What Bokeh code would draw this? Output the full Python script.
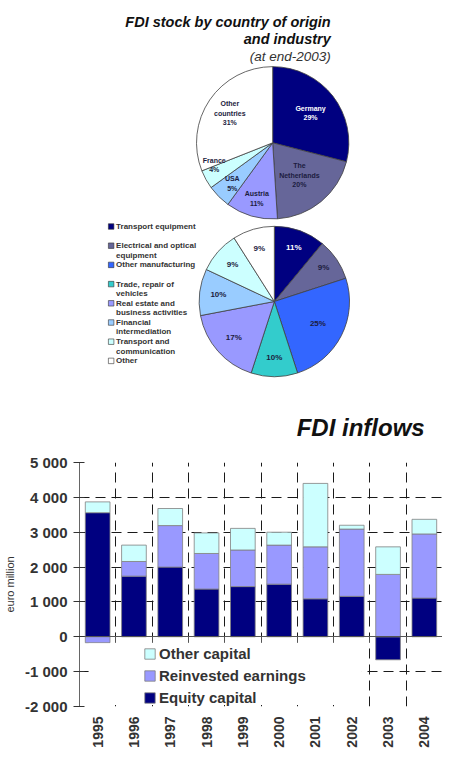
import numpy as np
from bokeh.plotting import figure
from bokeh.models import (Range1d, FixedTicker, Legend, LegendItem, BoxAnnotation,
                          LinearAxis, CustomJSTickFormatter)
from bokeh.layouts import column
from bokeh.embed import file_html
from bokeh.resources import INLINE
from bokeh.core.properties import value

FONT = "Liberation Sans"

# ---------------- data ----------------
country_names = ["Germany", "The\nNetherlands", "Austria", "USA", "France", "Other\ncountries"]
country_share = [29, 20, 11, 5, 4, 31]
country_colors = ["#000080", "#666699", "#9999ff", "#99ccff", "#ccffff", "#ffffff"]

industry_names = ["Transport equipment", "Electrical and optical\nequipment", "Other manufacturing",
                  "Trade, repair of\nvehicles", "Real estate and\nbusiness activities",
                  "Financial\nintermediation", "Transport and\ncommunication", "Other"]
industry_share = [11, 9, 25, 10, 17, 10, 9, 9]
industry_colors = ["#000080", "#666699", "#3366ff", "#33cccc", "#9999ff", "#99ccff", "#ccffff", "#ffffff"]

years = ["1995", "1996", "1997", "1998", "1999", "2000", "2001", "2002", "2003", "2004"]
equity_capital = [3560, 1740, 2000, 1370, 1440, 1510, 1090, 1160, -660, 1110]
reinvested_earnings = [-170, 420, 1190, 1020, 1050, 1120, 1490, 1930, 1790, 1840]
other_capital = [310, 470, 490, 590, 620, 370, 1820, 110, 790, 420]
series_names = ["Equity capital", "Reinvested earnings", "Other capital"]
series_colors = ["#000080", "#9999ff", "#ccffff"]

y_ticks = [-2000, -1000, 0, 1000, 2000, 3000, 4000, 5000]
y_tick_labels = ["-2 000", "-1 000", "0", "1 000", "2 000", "3 000", "4 000", "5 000"]

# ---------------- styling / layout ----------------
W = 442
H1 = 440
H2 = 310
LEFT = 75          # frame left border shared by both figures (column aligns frames)
X0 = 8 + LEFT      # page x of frame left
DARK = "#1c1c40"
TXT = "#333333"

top = figure(width=W, height=H1, x_range=Range1d(X0, 8 + W), y_range=Range1d(-H1, 0),
             output_backend="svg", toolbar_location=None, min_border=0, min_border_left=LEFT)
top.xaxis.visible = False
top.yaxis.visible = False
top.xgrid.visible = False
top.ygrid.visible = False
top.outline_line_color = None


def draw_pie(p, cx, cy, r, shares, colors, names, label_colors, rfs, nudges, fsize, pitch):
    frac = np.array(shares, dtype=float) / sum(shares)
    c1 = np.cumsum(frac)
    c0 = c1 - frac
    start = np.pi / 2 - 2 * np.pi * c0
    end = np.pi / 2 - 2 * np.pi * c1
    p.wedge(x=cx, y=cy, radius=r, start_angle=list(start), end_angle=list(end), direction="clock",
            fill_color=colors, line_color="#404040", line_width=0.8)
    mid = (start + end) / 2 - np.radians(nudges)
    xs, ys, ts, cs = [], [], [], []
    for i in range(len(shares)):
        lx = cx + rfs[i] * r * np.cos(mid[i])
        ly = cy + rfs[i] * r * np.sin(mid[i])
        lines = [l for l in names[i].split("\n") if l] + [f"{shares[i]}%"]
        n = len(lines)
        for j, t in enumerate(lines):
            xs.append(lx)
            ys.append(ly - (j - (n - 1) / 2) * pitch)
            ts.append(t)
            cs.append(label_colors[i])
    p.text(x=xs, y=ys, text=ts, text_font=value(FONT), text_font_size=fsize, text_font_style="bold",
           text_align="center", text_baseline="middle", text_color=cs)


# titles
title_lines = ["FDI stock by country of origin", "and industry"]
top.text(x=[337, 337], y=[-21.5, -38.5], text=title_lines, text_font=value(FONT), text_font_size="14.5px",
         text_font_style="bold italic", text_align="right", text_baseline="middle", text_color="#111111")
top.text(x=[337], y=[-55.5], text=["(at end-2003)"], text_font=value(FONT), text_font_size="13.5px",
         text_font_style="italic", text_align="right", text_baseline="middle", text_color=TXT)

# pie 1: countries
draw_pie(top, 278.3, -142.3, 77, country_share, country_colors, country_names,
         ["white", DARK, DARK, DARK, DARK, DARK], [0.63, 0.55, 0.75, 0.75, 0.82, 0.68],
         [0, 0, 0, 0, 8, 0], "7px", 9.5)

# pie 2: industries (labels only percentages)
draw_pie(top, 280, -301, 76, industry_share, industry_colors, [""] * len(industry_share),
         ["white"] + [DARK] * 7, [0.76, 0.79, 0.65, 0.74, 0.72, 0.75, 0.74, 0.72],
         [0] * 8, "8px", 9.5)

# legend of pie 2
row0, row_pitch, line_pitch = 226, 19.2, 9.4
sq_y = [-(row0 + row_pitch * i) for i in range(len(industry_names))]
top.scatter(x=[115] * len(industry_names), y=sq_y, marker="square", size=5.5,
            fill_color=industry_colors, line_color="#333333", line_width=0.6)
lx, ly, lt = [], [], []
for i, name in enumerate(industry_names):
    for j, t in enumerate(name.split("\n")):
        lx.append(120)
        ly.append(sq_y[i] - j * line_pitch)
        lt.append(t)
top.text(x=lx, y=ly, text=lt, text_font=value(FONT), text_font_size="8px", text_font_style="bold",
         text_align="left", text_baseline="middle", text_color=TXT)

# bar chart title
top.text(x=[432], y=[-427], text=["FDI inflows"], text_font=value(FONT), text_font_size="24px",
         text_font_style="bold italic", text_align="right", text_baseline="middle", text_color="#111111")

# ---------------- bar chart ----------------
bar = figure(width=W, height=H2, x_range=Range1d(0, len(years)), y_range=Range1d(-2000, 5000),
             output_backend="svg", toolbar_location=None,
             min_border_left=LEFT, min_border_right=0, min_border_top=22, min_border_bottom=43)
bar.outline_line_color = None

xc = np.arange(len(years)) + 0.5
pos_base = np.zeros(len(years))
neg_base = np.zeros(len(years))
renderers = []
for vals, color in zip([equity_capital, reinvested_earnings, other_capital], series_colors):
    v = np.array(vals, dtype=float)
    b = np.where(v >= 0, pos_base, neg_base + v)
    t = np.where(v >= 0, pos_base + v, neg_base)
    pos_base = np.where(v >= 0, pos_base + v, pos_base)
    neg_base = np.where(v < 0, neg_base + v, neg_base)
    r = bar.vbar(x=list(xc), width=0.68, bottom=list(b), top=list(t), fill_color=color,
                 line_color="#808080", line_width=0.8)
    renderers.append(r)

# grids
boundaries = list(np.arange(1, len(years)))
bar.xgrid.ticker = FixedTicker(ticks=boundaries)
bar.ygrid.ticker = FixedTicker(ticks=y_ticks)
bar.grid.grid_line_color = "#1a1a1a"
bar.grid.grid_line_dash = "10 6"
bar.grid.grid_line_width = 1

# white area behind legend
bar.add_layout(BoxAnnotation(left=0.25, right=7.78, top=-190, bottom=-1960, fill_color="white",
                             fill_alpha=1, line_alpha=0))

# y axis
bar.yaxis.ticker = FixedTicker(ticks=y_ticks)
bar.yaxis.major_label_overrides = dict(zip(y_ticks, y_tick_labels))
bar.yaxis.axis_line_color = "#666666"
bar.yaxis.major_tick_line_color = "#333333"
bar.yaxis.major_tick_in = 5
bar.yaxis.major_tick_out = 6
bar.yaxis.minor_tick_line_color = None
bar.yaxis.major_label_text_font = FONT
bar.yaxis.major_label_text_font_size = "15px"
bar.yaxis.major_label_text_font_style = "bold"
bar.yaxis.major_label_text_color = TXT
bar.yaxis.major_label_standoff = 6
bar.yaxis.axis_label = "euro million"
bar.yaxis.axis_label_text_font = FONT
bar.yaxis.axis_label_text_font_size = "11px"
bar.yaxis.axis_label_text_font_style = "normal"
bar.yaxis.axis_label_text_color = TXT
bar.yaxis.axis_label_standoff = 6

# x axis (labels at bottom)
bar.xaxis.ticker = FixedTicker(ticks=list(xc))
bar.xaxis.formatter = CustomJSTickFormatter(args=dict(labels=years), code="return labels[Math.floor(tick)];")
bar.xaxis.axis_line_color = None
bar.xaxis.major_tick_line_color = None
bar.xaxis.minor_tick_line_color = None
bar.xaxis.major_tick_in = 0
bar.xaxis.major_tick_out = 0
bar.xaxis.major_label_orientation = np.pi / 2
bar.xaxis.major_label_text_font = FONT
bar.xaxis.major_label_text_font_size = "14px"
bar.xaxis.major_label_text_font_style = "bold"
bar.xaxis.major_label_text_color = TXT
bar.xaxis.major_label_standoff = 10

# zero line axis with ticks at category boundaries
zero_axis = LinearAxis(fixed_location=0, ticker=FixedTicker(ticks=boundaries),
                       axis_line_color="#555555", major_tick_line_color="#555555",
                       major_tick_in=0, major_tick_out=6, minor_tick_line_color=None,
                       major_label_text_color=None)
bar.add_layout(zero_axis, "below")

# legend
items = [LegendItem(label=series_names[i], renderers=[renderers[i]]) for i in [2, 1, 0]]
legend = Legend(items=items, location=(64, 0), glyph_width=13, glyph_height=13,
                label_text_font=FONT, label_text_font_size="15px", label_text_font_style="bold",
                label_text_color=TXT, background_fill_alpha=0, border_line_color=None,
                padding=2, spacing=4, label_height=18, margin=0, label_standoff=3)
bar.add_layout(legend)

layout = column(top, bar)
open("out.html", "w").write(file_html(layout, INLINE))
